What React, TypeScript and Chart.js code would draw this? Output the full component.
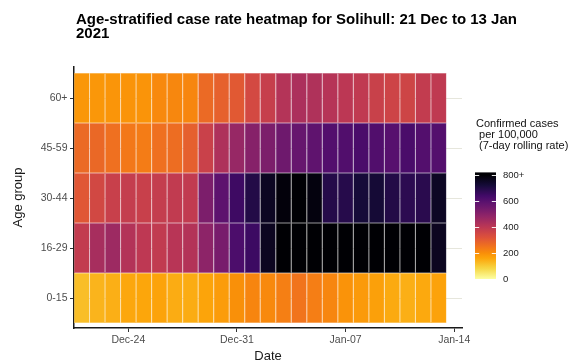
import React, { useEffect, useRef } from 'react';
import { Chart, registerables } from 'chart.js';

Chart.register(...registerables);

const titleLines = ['Age-stratified case rate heatmap for Solihull: 21 Dec to 13 Jan', '2021'];
const ageGroups = ['0-15', '16-29', '30-44', '45-59', '60+'];
const dates = [
  'Dec-21', 'Dec-22', 'Dec-23', 'Dec-24', 'Dec-25', 'Dec-26', 'Dec-27', 'Dec-28', 'Dec-29', 'Dec-30', 'Dec-31',
  'Jan-01', 'Jan-02', 'Jan-03', 'Jan-04', 'Jan-05', 'Jan-06', 'Jan-07', 'Jan-08', 'Jan-09', 'Jan-10', 'Jan-11', 'Jan-12', 'Jan-13',
];
const rate0to15 = [120, 136, 144, 156, 158, 164, 148, 148, 162, 176, 196, 216, 210, 228, 248, 230, 214, 192, 180, 168, 152, 144, 154, 166];
const rate16to29 = [386, 440, 460, 418, 396, 388, 408, 418, 492, 532, 620, 650, 758, 820, 820, 820, 820, 820, 820, 820, 820, 820, 820, 758];
const rate30to44 = [308, 348, 372, 380, 372, 380, 388, 388, 524, 588, 648, 696, 755, 790, 820, 785, 692, 690, 720, 724, 696, 680, 684, 752];
const rate45to59 = [268, 272, 256, 240, 232, 256, 262, 290, 368, 428, 472, 505, 524, 552, 568, 584, 608, 612, 624, 612, 600, 624, 608, 606];
const rate60plus = [185, 185, 188, 190, 190, 210, 212, 215, 268, 288, 304, 345, 376, 416, 432, 425, 412, 400, 390, 370, 360, 358, 385, 392];
const ratesByGroup = [rate0to15, rate16to29, rate30to44, rate45to59, rate60plus];

const xTickValues = [3, 10, 17, 24];
const xTickLabels = ['Dec-24', 'Dec-31', 'Jan-07', 'Jan-14'];
const legendTitle = ['Confirmed cases', ' per 100,000', ' (7-day rolling rate)'];
const legendBreaks = [0, 200, 400, 600, 800];
const legendLabels = ['0', '200', '400', '600', '800+'];
const rateCap = 800;

// inferno colour map stops (t from 0 to 1)
const infernoStops: [number, string][] = [
  [0.0, '#000004'], [0.1, '#160b39'], [0.2, '#420a68'], [0.25, '#57106e'], [0.3, '#6a176e'],
  [0.4, '#932667'], [0.5, '#bc3754'], [0.6, '#dd513a'], [0.7, '#f37819'], [0.75, '#f98e09'],
  [0.8, '#fca50a'], [0.9, '#f6d746'], [1.0, '#fcffa4'],
];

const FONT = '"Liberation Sans", Arial, sans-serif';

function hexToRgb(h: string): number[] {
  const n = parseInt(h.slice(1), 16);
  return [(n >> 16) & 255, (n >> 8) & 255, n & 255];
}

function inferno(t: number): number[] {
  t = Math.max(0, Math.min(1, t));
  for (let i = 1; i < infernoStops.length; i++) {
    const [t1, c1] = infernoStops[i];
    const [t0, c0] = infernoStops[i - 1];
    if (t <= t1) {
      const f = (t - t0) / (t1 - t0);
      const a = hexToRgb(c0);
      const b = hexToRgb(c1);
      return a.map((v, k) => v + (b[k] - v) * f);
    }
  }
  return hexToRgb(infernoStops[infernoStops.length - 1][1]);
}

function rateRgb(v: number): number[] {
  return inferno(1 - Math.min(v, rateCap) / rateCap);
}
function rgbStr(c: number[]): string {
  return `rgb(${Math.round(c[0])},${Math.round(c[1])},${Math.round(c[2])})`;
}
function rateColor(v: number): string {
  return rgbStr(rateRgb(v));
}
function rateBorder(v: number): string {
  const c = rateRgb(v);
  return rgbStr(c.map((x) => x + (255 - x) * 0.2));
}

const overlayPlugin = {
  id: 'overlay',
  afterDraw(chart: any) {
    const ctx = chart.ctx;
    ctx.save();
    // title
    ctx.fillStyle = '#000';
    ctx.font = `bold 15px ${FONT}`;
    ctx.textAlign = 'left';
    ctx.textBaseline = 'alphabetic';
    titleLines.forEach((line, i) => ctx.fillText(line, 76, 23.5 + i * 14.5));

    // legend title
    ctx.font = `11px ${FONT}`;
    ctx.fillStyle = '#111';
    legendTitle.forEach((line, i) => ctx.fillText(line, 476, 127 + i * 11));

    // colour bar
    const barL = 475;
    const barR = 496;
    const y0 = 279;
    const pxPer = 0.13;
    const vTop = 820;
    const yOf = (v: number) => y0 - v * pxPer;
    const grad = ctx.createLinearGradient(0, yOf(0), 0, yOf(vTop));
    for (let v = 0; v <= vTop; v += 20) grad.addColorStop(v / vTop, rateColor(v));
    ctx.fillStyle = grad;
    ctx.fillRect(barL, yOf(vTop), barR - barL, yOf(0) - yOf(vTop));
    ctx.strokeStyle = 'rgba(255,255,255,0.9)';
    ctx.lineWidth = 1;
    const tl = (barR - barL) / 5;
    legendBreaks.forEach((b) => {
      const y = Math.round(yOf(b)) + 0.5;
      ctx.beginPath();
      ctx.moveTo(barL, y);
      ctx.lineTo(barL + tl, y);
      ctx.moveTo(barR - tl, y);
      ctx.lineTo(barR, y);
      ctx.stroke();
    });
    ctx.fillStyle = '#222';
    ctx.font = `9.5px ${FONT}`;
    ctx.textBaseline = 'middle';
    legendBreaks.forEach((b, i) => ctx.fillText(legendLabels[i], 503, yOf(b) + 0.5));
    ctx.restore();
  },
};

export default function App() {
  const ref = useRef<HTMLCanvasElement>(null);
  useEffect(() => {
    if (!ref.current) return;
    Chart.defaults.font.family = FONT;
    const points: any[] = [];
    const bg: string[] = [];
    const bc: string[] = [];
    ratesByGroup.forEach((rates, g) => {
      rates.forEach((v, d) => {
        points.push({ x: [d - 0.5, d + 0.5], y: g });
        bg.push(rateColor(v));
        bc.push(rateBorder(v));
      });
    });
    const chart = new Chart(ref.current, {
      type: 'bar',
      data: {
        labels: dates,
        datasets: [
          {
            data: points,
            backgroundColor: bg,
            borderColor: bc,
            borderWidth: 0.5,
            borderSkipped: false,
            barPercentage: 1,
            categoryPercentage: 1,
            inflateAmount: 0,
          } as any,
        ],
      },
      options: {
        indexAxis: 'y',
        animation: false,
        responsive: false,
        devicePixelRatio: 1,
        events: [],
        layout: { padding: { top: 67, right: 109, bottom: 0, left: 0 } },
        plugins: { legend: { display: false }, tooltip: { enabled: false }, title: { display: false } },
        scales: {
          x: {
            type: 'linear',
            position: 'bottom',
            min: -0.5,
            max: 24.5,
            offset: false,
            afterBuildTicks: (s: any) => {
              s.ticks = xTickValues.map((v) => ({ value: v }));
            },
            afterFit: (s: any) => {
              s.height = 35;
            },
            ticks: {
              autoSkip: false,
              maxRotation: 0,
              padding: 1.5,
              color: '#4d4d4d',
              font: { size: 10.5, family: FONT },
              callback: (v: any) => xTickLabels[xTickValues.indexOf(Number(v))] ?? '',
            },
            grid: { drawOnChartArea: false, drawTicks: true, tickLength: 4, tickColor: '#333', tickWidth: 1, offset: false },
            border: { display: true, color: '#1a1a1a', width: 1.5 },
            title: { display: true, text: 'Date', color: '#1a1a1a', font: { size: 13, lineHeight: 1, family: FONT }, padding: { top: 0, bottom: 0 } },
          },
          y: {
            type: 'linear',
            position: 'left',
            min: -0.6,
            max: 4.62,
            offset: false,
            afterBuildTicks: (s: any) => {
              s.ticks = ageGroups.map((_, i) => ({ value: i }));
            },
            afterFit: (s: any) => {
              s.width = 74;
            },
            ticks: {
              autoSkip: false,
              padding: 2.5,
              color: '#4d4d4d',
              font: { size: 10.5, family: FONT },
              callback: (v: any) => ageGroups[Number(v)] ?? '',
            },
            grid: { color: '#e6e6dc', lineWidth: 1, drawTicks: true, tickLength: 4, tickColor: '#333', tickWidth: 1, offset: false },
            border: { display: true, color: '#1a1a1a', width: 1.5 },
            title: { display: true, text: 'Age group', color: '#1a1a1a', font: { size: 13, lineHeight: 1, family: FONT }, padding: { top: 11.5, bottom: 0 } },
          },
        },
      } as any,
      plugins: [overlayPlugin],
    });
    return () => chart.destroy();
  }, []);
  return (
    <div style={{ position: 'absolute', left: 0, top: 0, width: 571, height: 363, background: '#fff' }}>
      <canvas ref={ref} width={571} height={363} style={{ display: 'block' }} />
    </div>
  );
}
